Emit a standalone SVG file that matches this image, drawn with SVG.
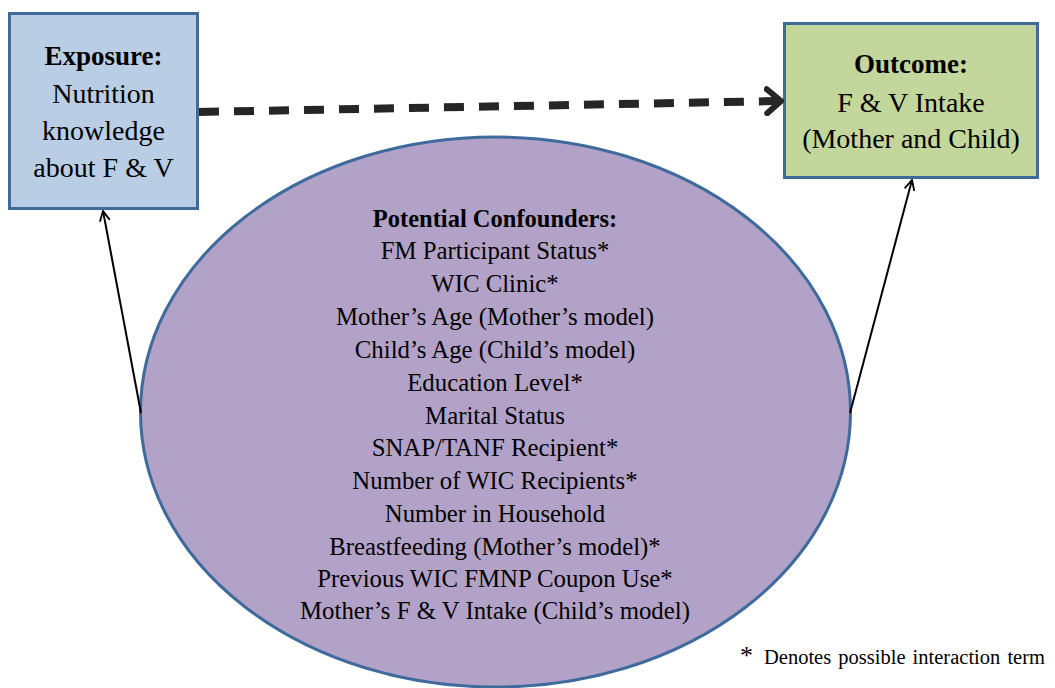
<svg xmlns="http://www.w3.org/2000/svg" width="1055" height="688" viewBox="0 0 1055 688">
<defs>
<style>
.t{font-family:"Liberation Serif","Times New Roman",serif;fill:#000;text-anchor:middle}
.b{font-weight:bold}
.box{stroke:#3f6a9c;stroke-width:3}
</style>
<marker id="open" viewBox="0 0 12 12" refX="11" refY="6" markerWidth="12" markerHeight="12" markerUnits="userSpaceOnUse" orient="auto">
<path d="M1,1 L11,6 L1,11" fill="none" stroke="#000" stroke-width="1.8"/>
</marker>
<marker id="big" viewBox="0 0 20 30" refX="17" refY="15" markerWidth="20" markerHeight="30" markerUnits="userSpaceOnUse" orient="auto">
<path d="M3,3 L17,15 L3,27" fill="none" stroke="#262626" stroke-width="6" stroke-linecap="round" stroke-linejoin="round"/>
</marker>
</defs>
<rect width="1055" height="688" fill="#fff"/>
<g id="confounders">
<ellipse cx="495.5" cy="412" rx="355" ry="275" fill="#b3a2c7" stroke="#3f6a9c" stroke-width="3"/>
<text class="t b" x="495" y="227" font-size="24.5">Potential Confounders:</text>
<g class="t" font-size="24.8">
<text x="495" y="259">FM Participant Status*</text>
<text x="495" y="292">WIC Clinic*</text>
<text x="495" y="325">Mother’s Age (Mother’s model)</text>
<text x="495" y="358">Child’s Age (Child’s model)</text>
<text x="495" y="391">Education Level*</text>
<text x="495" y="424">Marital Status</text>
<text x="495" y="456">SNAP/TANF Recipient*</text>
<text x="495" y="489">Number of WIC Recipients*</text>
<text x="495" y="522">Number in Household</text>
<text x="495" y="555">Breastfeeding (Mother’s model)*</text>
<text x="495" y="587">Previous WIC FMNP Coupon Use*</text>
<text x="495" y="619">Mother’s F &amp; V Intake (Child’s model)</text>
</g>
</g>
<g id="exposure">
<rect class="box" x="9.5" y="13.5" width="188" height="195" fill="#b9cde5"/>
<text class="t b" x="103.5" y="65" font-size="27">Exposure:</text>
<text class="t" x="103.5" y="103" font-size="28">Nutrition</text>
<text class="t" x="103.5" y="140" font-size="28">knowledge</text>
<text class="t" x="103.5" y="177" font-size="28">about F &amp; V</text>
</g>
<g id="outcome">
<rect class="box" x="784.5" y="23.5" width="253" height="154" fill="#c3d69b"/>
<text class="t b" x="911" y="73" font-size="27">Outcome:</text>
<text class="t" x="911" y="112" font-size="28">F &amp; V Intake</text>
<text class="t" x="911" y="148" font-size="28">(Mother and Child)</text>
</g>
<g id="connectors">
<line x1="199" y1="112" x2="781" y2="101" stroke="#262626" stroke-width="8" stroke-dasharray="20 15" marker-end="url(#big)"/>
<line x1="141" y1="413" x2="103" y2="211" stroke="#000" stroke-width="2" marker-end="url(#open)"/>
<line x1="850" y1="413" x2="912" y2="180" stroke="#000" stroke-width="2" marker-end="url(#open)"/>
</g>
<g id="footnote">
<text x="740" y="664" font-family="Liberation Serif, Times New Roman, serif" font-size="26">*</text>
<text x="764" y="664" font-family="Liberation Serif, Times New Roman, serif" font-size="20.5" word-spacing="2">Denotes possible interaction term</text>
</g>
</svg>
